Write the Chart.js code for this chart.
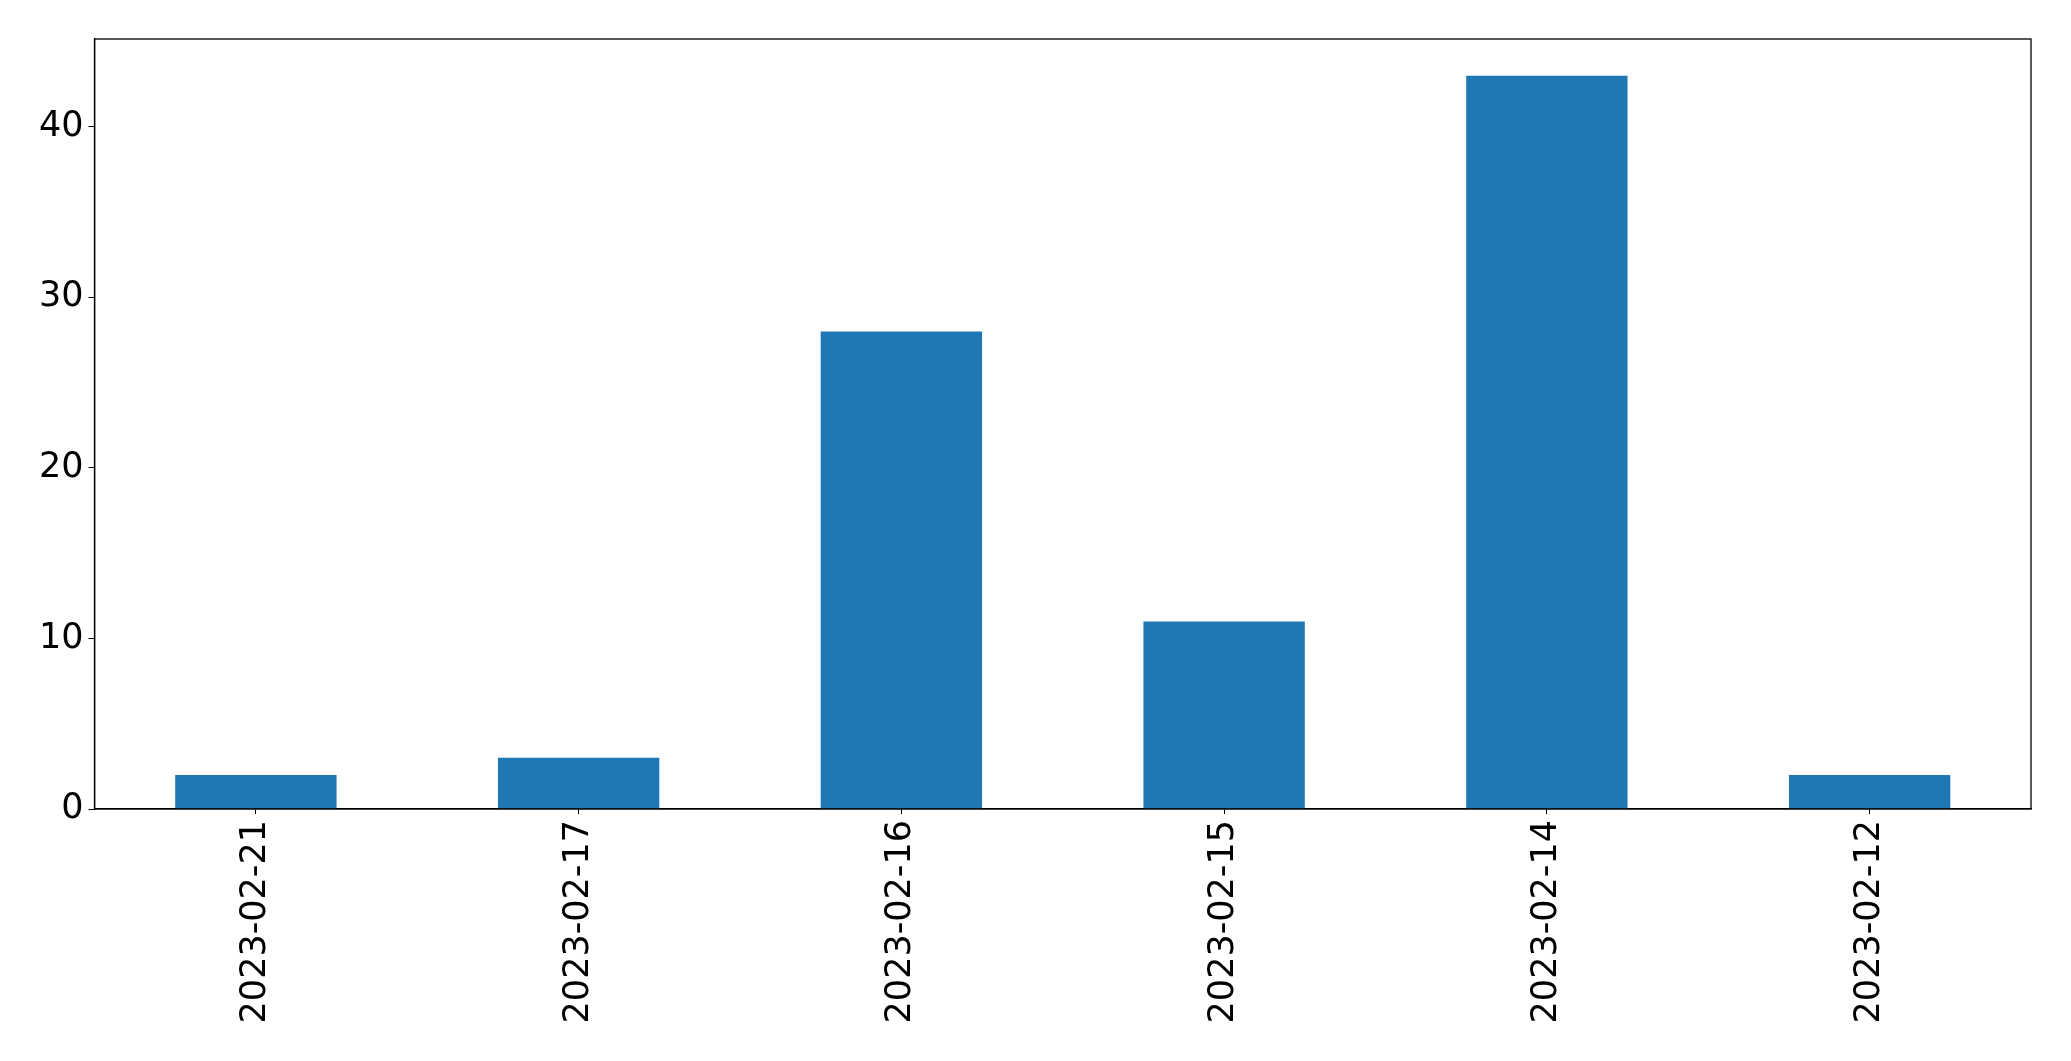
<!DOCTYPE html>
<html>
<head>
<meta charset="utf-8">
<script src="https://cdn.jsdelivr.net/npm/chart.js@4/dist/chart.umd.min.js"></script>
<style>
  html, body { margin: 0; padding: 0; background: #fff; }
  canvas { display: block; }
</style>
</head>
<body>
<canvas id="myChart" width="2071" height="1061"></canvas>
<script>
const categories = ["2023-02-21", "2023-02-17", "2023-02-16", "2023-02-15", "2023-02-14", "2023-02-12"];
const counts = [2, 3, 28, 11, 43, 2];
const yTicks = [0, 10, 20, 30, 40];

const tickFont = { family: "DejaVu Sans", size: 35 };

// matplotlib-style closed frame around the plot area
const frame = {
  id: "frame",
  afterDraw(chart) {
    const { ctx, chartArea } = chart;
    ctx.save();
    ctx.strokeStyle = "#000";
    ctx.lineWidth = 1.3;
    ctx.strokeRect(chartArea.left, chartArea.top, chartArea.right - chartArea.left, chartArea.bottom - chartArea.top);
    ctx.restore();
  },
};

const ctx = document.getElementById("myChart");
new Chart(ctx, {
  type: "bar",
  data: {
    labels: categories,
    datasets: [
      {
        data: counts,
        backgroundColor: "#1f77b4",
        borderWidth: 0,
        barPercentage: 0.5,
        categoryPercentage: 1,
      },
    ],
  },
  options: {
    responsive: false,
    animation: false,
    devicePixelRatio: 1,
    layout: { padding: { top: 39, right: 40, left: 0, bottom: 0 } },
    plugins: {
      legend: { display: false },
      tooltip: { enabled: false },
    },
    scales: {
      x: {
        grid: { drawOnChartArea: false, drawTicks: true, tickLength: 5, color: "#000", offset: false },
        border: { display: true, color: "#000", width: 1.3 },
        ticks: {
          font: tickFont,
          color: "#000",
          minRotation: 90,
          maxRotation: 90,
          padding: 6,
          autoSkip: false,
        },
        afterFit(scale) {
          scale.height = 252;
        },
      },
      y: {
        min: 0,
        max: 45.15,
        grid: { drawOnChartArea: false, drawTicks: true, tickLength: 6, color: "#000" },
        border: { display: true, color: "#000", width: 1.3 },
        afterBuildTicks(scale) {
          scale.ticks = yTicks.map((v) => ({ value: v }));
        },
        ticks: {
          font: tickFont,
          color: "#000",
          padding: 5,
        },
        afterFit(scale) {
          scale.width = 94.5;
        },
      },
    },
  },
  plugins: [frame],
});
</script>
</body>
</html>
